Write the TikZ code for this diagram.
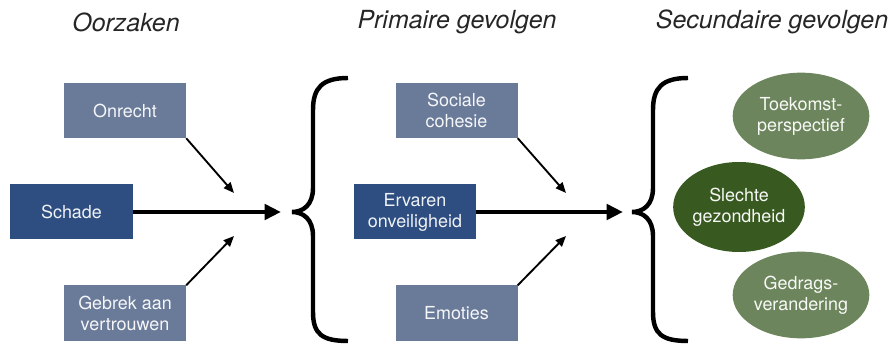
\documentclass[tikz,border=0pt]{standalone}
\usepackage{fontspec}
\setmainfont{TeX Gyre Heros}
\usetikzlibrary{arrows.meta,shapes.geometric}
\definecolor{slate}{RGB}{106,122,153}
\definecolor{navy}{RGB}{46,77,128}
\definecolor{sage}{RGB}{108,133,92}
\definecolor{moss}{RGB}{56,90,32}

\begin{document}
\begin{tikzpicture}[x=0.03cm,y=-0.03cm,
    kop/.style={font=\fontsize{21.3}{24}\selectfont\itshape, text=black!85},
    blok/.style={rectangle, fill=slate, text=white!93!slate, minimum width=3.66cm, minimum height=1.65cm,
      align=center, inner sep=2pt, font=\fontsize{15.3}{18}\selectfont},
    kern/.style={blok, fill=navy, text=white!93!navy},
    ovaal/.style={ellipse, fill=sage, text=white!95!sage, minimum width=4.1cm, minimum height=2.6cm,
      align=center, inner sep=0pt, font=\fontsize{15.3}{18}\selectfont},
    dik/.style={line width=3.5pt, -{Triangle[length=14pt,width=13pt]}},
    dun/.style={line width=1.6pt, -{Triangle[length=9pt,width=7.5pt]}},
    accolade/.style={line width=3.8pt}]
  \useasboundingbox (0,0) rectangle (890,344);

  % kopjes
  \node[kop] (oorz) at (126,22) {Oorzaken};
  \node[kop] (prim) at (457,22) {Primaire gevolgen};
  \node[kop] (sec) at (772,22) {Secundaire gevolgen};

  % oorzaken
  \node[blok] (onr) at (125,110.5) {Onrecht};
  \node[kern] (sch) at (71.5,212) {Schade};
  \node[blok] (gebr) at (125,313) {Gebrek aan\\vertrouwen};
  \coordinate (in1) at (281,212);
  \coordinate (in1a) at (234,193);
  \coordinate (in1b) at (234,236);
  \draw[dik] (sch) -- (in1);
  \draw[dun] (onr.south east) -- (in1a);
  \draw[dun] (gebr.north east) -- (in1b);

  \draw[accolade] (348,78) .. controls (322,78) and (313,88) .. (313,110) -- (313,188)
    .. controls (313,205) and (303,212) .. (292,212)
    .. controls (303,212) and (313,219) .. (313,236) -- (313,312)
    .. controls (313,334) and (322,341) .. (348,341);

  % primaire gevolgen
  \node[blok] (soc) at (456.5,110.5) {Sociale\\cohesie};
  \node[kern] (erv) at (415,212) {Ervaren\\onveiligheid};
  \node[blok] (emo) at (456.5,313) {Emoties};
  \coordinate (in2) at (623,212);
  \coordinate (in2a) at (566,193);
  \coordinate (in2b) at (566,236);
  \draw[dik] (erv) -- (in2);
  \draw[dun] (soc.south east) -- (in2a);
  \draw[dun] (emo.north east) -- (in2b);

  \begin{scope}[shift={(340,0)}]
    \draw[accolade] (348,78) .. controls (322,78) and (313,88) .. (313,110) -- (313,188)
      .. controls (313,205) and (303,212) .. (292,212)
      .. controls (303,212) and (313,219) .. (313,236) -- (313,312)
      .. controls (313,334) and (322,341) .. (348,341);
  \end{scope}

  % secundaire gevolgen
  \node[ovaal] (toek) at (801,116) {Toekomst-\\perspectief};
  \node[ovaal, fill=moss, minimum width=3.95cm, minimum height=2.7cm] (slecht) at (739,207) {Slechte\\gezondheid};
  \node[ovaal] (gedr) at (801,295) {Gedrags-\\verandering};
\end{tikzpicture}
\end{document}
